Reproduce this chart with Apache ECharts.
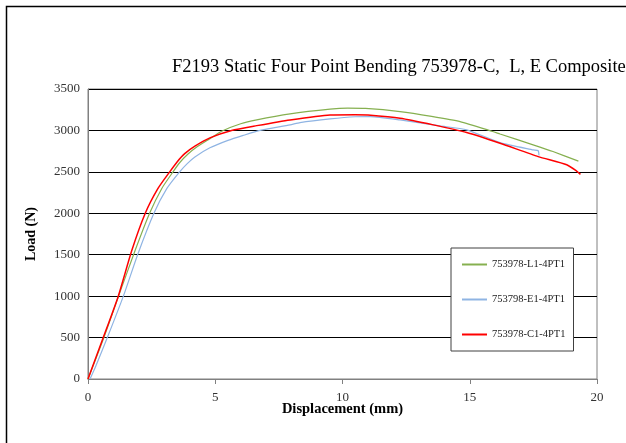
<!DOCTYPE html>
<html>
<head>
<meta charset="utf-8">
<script src="https://cdn.jsdelivr.net/npm/echarts@6/dist/echarts.min.js"></script>
<style>
  html, body { margin: 0; padding: 0; background: #fff; }
  #chart { width: 626px; height: 443px; }
</style>
</head>
<body>
<div id="chart"></div>
<script>
// data: [displacement mm, load N]
var seriesNames = ['753978-L1-4PT1', '753798-E1-4PT1', '753978-C1-4PT1'];
var greenL1 = [[0, 0], [0.6, 480], [1.2, 1000], [1.85, 1550], [2.42, 2000], [2.9, 2300], [3.34, 2500],
  [3.6, 2610], [3.93, 2715], [4.3, 2805], [4.79, 2900], [5.25, 2990], [6.0, 3080], [6.63, 3127],
  [7.94, 3199], [9.51, 3256], [10.2, 3268], [10.9, 3265], [12.26, 3227], [13.5, 3170], [14.62, 3107],
  [15.9, 2987], [16.19, 2957], [17.49, 2826], [18.27, 2745], [19.27, 2630]];
var blueE1 = [[0.08, 0], [0.3, 150], [0.76, 500], [1.39, 1000], [1.95, 1500], [2.59, 2000], [3.1, 2300],
  [3.6, 2500], [3.9, 2600], [4.2, 2680], [4.79, 2790], [5.5, 2880], [6.1, 2940], [6.76, 3000],
  [7.94, 3067], [8.33, 3095], [9.51, 3139], [10.5, 3165], [11.1, 3167], [12.26, 3127], [13.83, 3055],
  [14.88, 3007], [16.19, 2853], [17.5, 2765], [17.69, 2755], [17.72, 2697]];
var redC1 = [[0, 0], [0.6, 500], [1.19, 1000], [1.72, 1550], [2.25, 2000], [2.75, 2300], [3.21, 2500],
  [3.5, 2620], [3.8, 2720], [4.2, 2810], [4.79, 2910], [5.64, 3000], [6.63, 3058], [7.94, 3127],
  [9.51, 3187], [10.5, 3190], [11, 3185], [12.26, 3147], [13.57, 3067], [14.88, 2974], [16.19, 2845],
  [17.69, 2684], [18.81, 2585], [19.2, 2510], [19.35, 2470]];
var xTicks = { min: 0, max: 20, step: 5 };
var yTicks = { min: 0, max: 3500, step: 500 };

var chart = echarts.init(document.getElementById('chart'));
var serif = '"Liberation Serif", "DejaVu Serif", serif';

function lineSeries(name, data, color, width) {
  return {
    name: name,
    type: 'line',
    data: data,
    showSymbol: false,
    symbol: 'none',
    smooth: 0.2,
    animation: false,
    lineStyle: { color: color, width: width },
    itemStyle: { color: color }
  };
}

chart.setOption({
  backgroundColor: '#fff',
  title: {
    text: 'F2193 Static Four Point Bending 753978-C,  L, E Composite',
    left: 167,
    top: 53,
    textStyle: { fontFamily: serif, fontSize: 18.5, fontWeight: 'normal', color: '#000' }
  },
  graphic: [{
    type: 'rect',
    shape: { x: 6.5, y: 6.5, width: 700, height: 700 },
    style: { fill: 'none', stroke: '#000', lineWidth: 1.5 },
    silent: true
  }],
  grid: {
    left: 88, right: 29, top: 89, bottom: 64,
    show: true, borderColor: '#808080', borderWidth: 1
  },
  legend: {
    orient: 'vertical',
    left: 451, top: 248,
    padding: [11, 8, 11, 11],
    itemWidth: 25, itemHeight: 2, itemGap: 24,
    icon: 'rect',
    backgroundColor: '#fff',
    borderColor: '#404040', borderWidth: 1,
    textStyle: { fontFamily: serif, fontSize: 10.5, color: '#222' },
    data: seriesNames
  },
  xAxis: {
    type: 'value',
    min: xTicks.min, max: xTicks.max, interval: xTicks.step,
    name: 'Displacement (mm)',
    nameLocation: 'middle',
    nameGap: 23,
    nameMoveOverlap: false,
    nameTextStyle: { fontFamily: serif, fontSize: 14.5, fontWeight: 'bold', color: '#000' },
    axisLine: { lineStyle: { color: '#808080' } },
    axisTick: { show: true, length: 5, lineStyle: { color: '#808080' } },
    axisLabel: { fontFamily: serif, fontSize: 13, color: '#333', margin: 12 },
    splitLine: { show: false }
  },
  yAxis: {
    type: 'value',
    min: yTicks.min, max: yTicks.max, interval: yTicks.step,
    name: 'Load (N)',
    nameLocation: 'middle',
    nameGap: 50,
    nameTextStyle: { fontFamily: serif, fontSize: 14, fontWeight: 'bold', color: '#000' },
    axisLine: { show: true, lineStyle: { color: '#808080' } },
    axisTick: { show: false },
    axisLabel: {
      fontFamily: serif, fontSize: 13, color: '#333', margin: 8,
      formatter: function (v) { return String(v); }
    },
    splitLine: { show: true, lineStyle: { color: '#000', width: 1 } }
  },
  series: [
    lineSeries(seriesNames[0], greenL1, '#86b050', 1.2),
    lineSeries(seriesNames[1], blueE1, '#8fb4e3', 1.2),
    lineSeries(seriesNames[2], redC1, '#ff0000', 1.5)
  ]
});
</script>
</body>
</html>
